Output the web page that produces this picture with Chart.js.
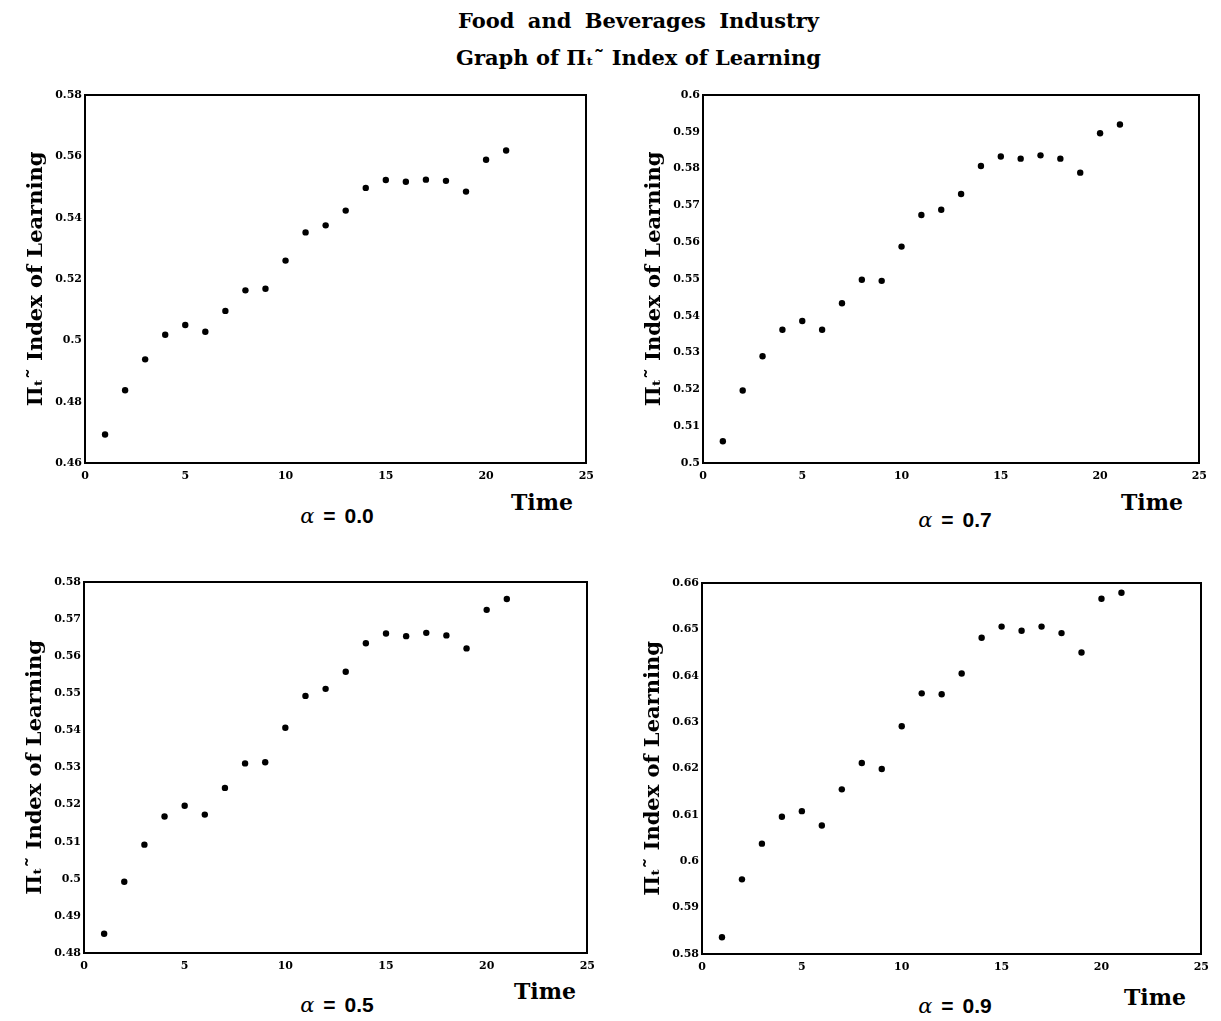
<!doctype html>
<html lang="en">
<head>
  <meta charset="utf-8" />
  <title>Food and Beverages Industry</title>
  <script src="https://cdn.jsdelivr.net/npm/chart.js@4"></script>
  <style>
    * { box-sizing: border-box; }
    html, body { margin: 0; padding: 0; background: #fff; }
    #page { position: relative; width: 1221px; height: 1021px; background: #fff; overflow: hidden; color: #000; }
    .head { position: absolute; left: 56px; width: 1165px; text-align: center; font: bold 21px "DejaVu Serif", serif; white-space: nowrap; }
    .panel { position: absolute; }
    .lbl { position: absolute; transform: translate(-50%, -50%); white-space: nowrap; }
    .time { font: bold 22px "DejaVu Serif", serif; }
    .alpha { font: bold 21px "Liberation Sans", sans-serif; word-spacing: 3px; }
    .alpha i { font-family: "DejaVu Serif", serif; font-weight: normal; }
  </style>
</head>
<body>
  <div id="page">
    <div class="head" style="top:8px; word-spacing:6px">Food and Beverages Industry</div>
    <div class="head" style="top:45px">Graph of Πₜ˜ Index of Learning</div>
  </div>

  <script>
    // values
    const timeSteps = [1, 2, 3, 4, 5, 6, 7, 8, 9, 10, 11, 12, 13, 14, 15, 16, 17, 18, 19, 20, 21];
    const learnAlpha00 = [0.4693, 0.4837, 0.4938, 0.5018, 0.5050, 0.5028, 0.5096, 0.5163, 0.5168, 0.5260, 0.5352,
                          0.5375, 0.5423, 0.5497, 0.5523, 0.5517, 0.5524, 0.5520, 0.5485, 0.5589, 0.5619];
    const learnAlpha07 = [0.5059, 0.5197, 0.5290, 0.5362, 0.5386, 0.5362, 0.5434, 0.5498, 0.5495, 0.5588, 0.5674,
                          0.5688, 0.5731, 0.5807, 0.5833, 0.5827, 0.5836, 0.5827, 0.5789, 0.5896, 0.5920];
    const learnAlpha05 = [0.4852, 0.4992, 0.5092, 0.5168, 0.5197, 0.5173, 0.5245, 0.5311, 0.5314, 0.5407, 0.5493,
                          0.5512, 0.5558, 0.5635, 0.5661, 0.5654, 0.5663, 0.5656, 0.5621, 0.5725, 0.5754];
    const learnAlpha09 = [0.5836, 0.5961, 0.6038, 0.6096, 0.6108, 0.6077, 0.6155, 0.6212, 0.6199, 0.6291, 0.6362,
                          0.6360, 0.6405, 0.6482, 0.6506, 0.6497, 0.6506, 0.6492, 0.6450, 0.6566, 0.6579];

    const xTicks = [0, 5, 10, 15, 20, 25];
    const yTicks00 = [0.46, 0.48, 0.5, 0.52, 0.54, 0.56, 0.58];
    const yTicks07 = [0.5, 0.51, 0.52, 0.53, 0.54, 0.55, 0.56, 0.57, 0.58, 0.59, 0.6];
    const yTicks05 = [0.48, 0.49, 0.5, 0.51, 0.52, 0.53, 0.54, 0.55, 0.56, 0.57, 0.58];
    const yTicks09 = [0.58, 0.59, 0.6, 0.61, 0.62, 0.63, 0.64, 0.65, 0.66];

    const alphaLabels = ['0.0', '0.7', '0.5', '0.9'];
    const yTitle = 'Πₜ˜ Index of Learning';
    const xTitle = 'Time';

    // plot-box placement of each panel on the page (left, right, top, bottom)
    const panels = [
      { vals: learnAlpha00, yTicks: yTicks00, alpha: alphaLabels[0], box: [85, 587, 95, 463],  time: [542, 502],  alphaAt: [337, 516] },
      { vals: learnAlpha07, yTicks: yTicks07, alpha: alphaLabels[1], box: [703, 1200, 95, 463], time: [1152, 502], alphaAt: [955, 520] },
      { vals: learnAlpha05, yTicks: yTicks05, alpha: alphaLabels[2], box: [84, 588, 582, 953],  time: [545, 991],  alphaAt: [337, 1005] },
      { vals: learnAlpha09, yTicks: yTicks09, alpha: alphaLabels[3], box: [702, 1202, 583, 954], time: [1155, 997], alphaAt: [955, 1006] },
    ];

    const L = 70, T = 12, R = 14, B = 24;
    const tickFont = { family: 'DejaVu Serif', weight: 'bold', size: 11 };
    const page = document.getElementById('page');

    function addLabel(cls, html, at) {
      const d = document.createElement('div');
      d.className = 'lbl ' + cls;
      d.innerHTML = html;
      d.style.left = at[0] + 'px';
      d.style.top = at[1] + 'px';
      page.appendChild(d);
    }

    for (const p of panels) {
      const [left, right, top, bottom] = p.box;
      const w = right - left + L + R;
      const h = bottom - top + T + B;
      const wrap = document.createElement('div');
      wrap.className = 'panel';
      wrap.style.left = (left - L) + 'px';
      wrap.style.top = (top - T) + 'px';
      const canvas = document.createElement('canvas');
      canvas.width = w;
      canvas.height = h;
      canvas.style.width = w + 'px';
      canvas.style.height = h + 'px';
      wrap.appendChild(canvas);
      page.appendChild(wrap);

      const yMin = p.yTicks[0];
      const yMax = p.yTicks[p.yTicks.length - 1];

      new Chart(canvas, {
        type: 'scatter',
        data: {
          datasets: [{
            data: timeSteps.map((t, i) => ({ x: t, y: p.vals[i] })),
            backgroundColor: '#000',
            borderColor: '#000',
            pointRadius: 3.2,
            pointHoverRadius: 3.2,
            pointBorderWidth: 0,
          }]
        },
        options: {
          responsive: false,
          animation: false,
          events: [],
          layout: { padding: { top: T, right: R, left: 0, bottom: 0 } },
          plugins: { legend: { display: false }, tooltip: { enabled: false } },
          scales: {
            x: {
              type: 'linear', position: 'bottom', min: 0, max: 25,
              afterBuildTicks: s => { s.ticks = xTicks.map(v => ({ value: v })); },
              afterFit: s => { s.height = B; },
              grid: { drawOnChartArea: false, drawTicks: false },
              border: { color: '#000', width: 2 },
              ticks: { padding: 7, color: '#000', font: tickFont, maxRotation: 0, autoSkip: false, callback: v => String(v) },
            },
            y: {
              type: 'linear', position: 'left', min: yMin, max: yMax,
              afterBuildTicks: s => { s.ticks = p.yTicks.map(v => ({ value: v })); },
              afterFit: s => { s.width = L; },
              grid: { drawOnChartArea: false, drawTicks: false },
              border: { color: '#000', width: 2 },
              ticks: { padding: 3, color: '#000', font: tickFont, autoSkip: false, callback: v => String(+v.toFixed(4)) },
              title: {
                display: true, text: yTitle, color: '#000',
                font: { family: 'DejaVu Serif', weight: 'bold', size: 21 },
                padding: { top: 9, bottom: 0 },
              },
            },
            x2: {
              type: 'linear', position: 'top', min: 0, max: 25,
              ticks: { display: false },
              grid: { drawOnChartArea: false, drawTicks: false },
              border: { color: '#000', width: 2 },
              afterFit: s => { s.height = 0; },
            },
            y2: {
              type: 'linear', position: 'right', min: yMin, max: yMax,
              ticks: { display: false },
              grid: { drawOnChartArea: false, drawTicks: false },
              border: { color: '#000', width: 2 },
              afterFit: s => { s.width = 0; },
            },
          }
        }
      });

      addLabel('time', xTitle, p.time);
      addLabel('alpha', '<i>α</i> = ' + p.alpha, p.alphaAt);
    }
  </script>
</body>
</html>
